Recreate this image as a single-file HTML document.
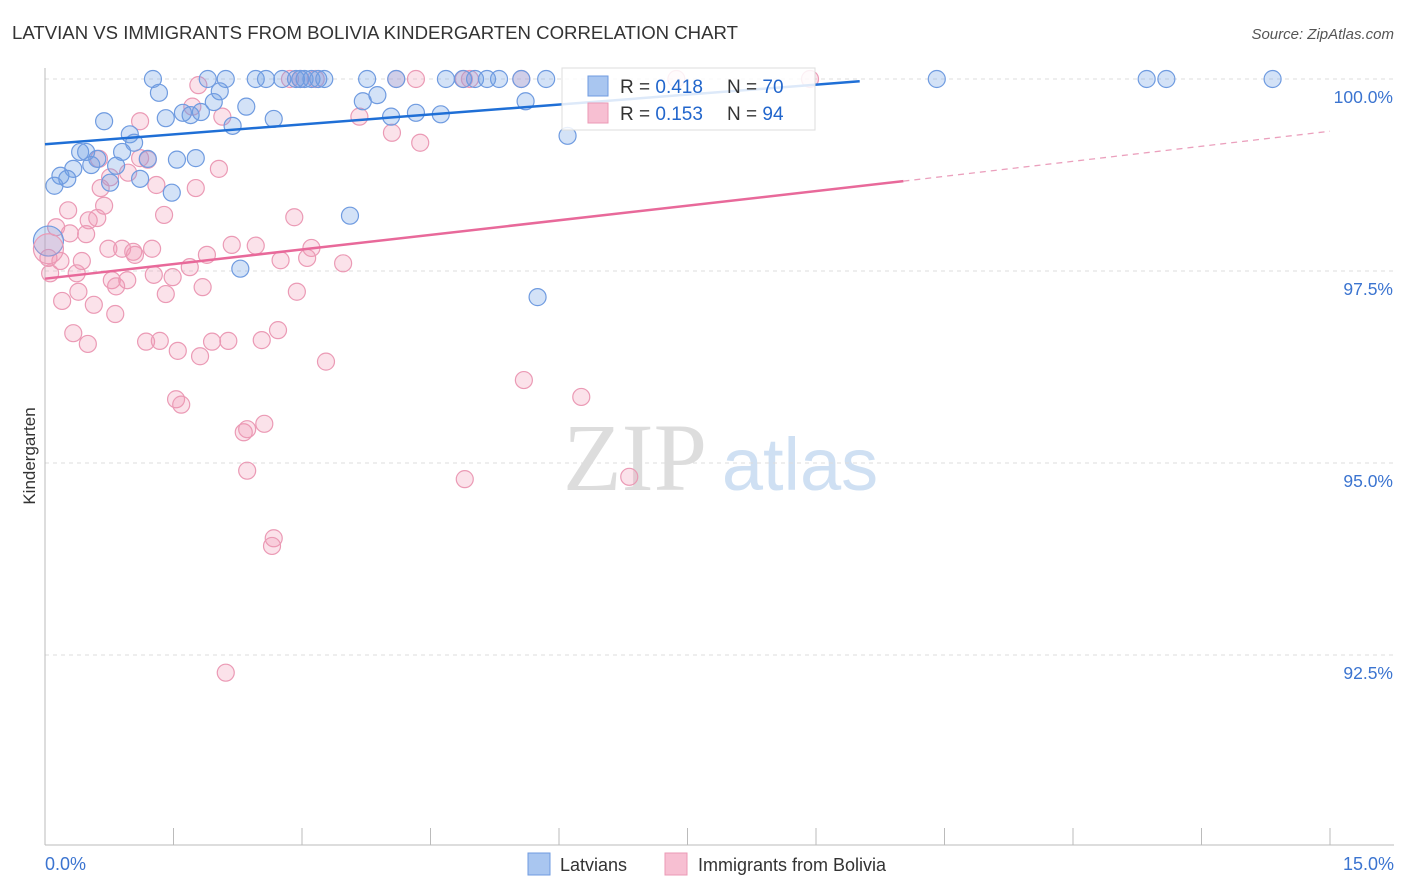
<!DOCTYPE html>
<html><head><meta charset="utf-8"><style>
body{margin:0;background:#fff;font-family:"Liberation Sans",sans-serif;}
svg{display:block}
</style></head><body>
<svg id="chart" width="1406" height="892" xmlns="http://www.w3.org/2000/svg">
<text x="12" y="39" font-size="18.6" fill="#333">LATVIAN VS IMMIGRANTS FROM BOLIVIA KINDERGARTEN CORRELATION CHART</text>
<text x="1394" y="39" font-size="15" fill="#555" font-style="italic" text-anchor="end">Source: ZipAtlas.com</text>
<text x="35" y="456" font-size="17" fill="#333" text-anchor="middle" transform="rotate(-90 35 456)">Kindergarten</text>
<g><text x="635" y="490" font-size="96" fill="#ddd" font-family="Liberation Serif,serif" text-anchor="middle">ZIP</text><text x="800" y="490" font-size="74" fill="#cfe0f3" text-anchor="middle">atlas</text></g>
<g id="grid"></g><g id="axes"></g><g id="pts"></g><g id="lines"></g>
<g>
<rect x="562" y="68" width="253" height="62" fill="#fff" fill-opacity="0.85" stroke="#ddd"/>
<rect x="588" y="76" width="20" height="20" fill="#a9c6f0" stroke="#6f9be0"/>
<rect x="588" y="103" width="20" height="20" fill="#f7bfd2" stroke="#eb9ab5"/>
<text x="620" y="93" font-size="19" fill="#333">R = <tspan fill="#2266cc">0.418</tspan></text>
<text x="727" y="93" font-size="19" fill="#333">N = <tspan fill="#2266cc">70</tspan></text>
<text x="620" y="120" font-size="19" fill="#333">R = <tspan fill="#2266cc">0.153</tspan></text>
<text x="727" y="120" font-size="19" fill="#333">N = <tspan fill="#2266cc">94</tspan></text>
</g>
<g>
<rect x="528" y="853" width="22" height="22" fill="#a9c6f0" stroke="#6f9be0"/>
<text x="560" y="871" font-size="18" fill="#333">Latvians</text>
<rect x="665" y="853" width="22" height="22" fill="#f7bfd2" stroke="#eb9ab5"/>
<text x="698" y="871" font-size="18" fill="#333">Immigrants from Bolivia</text>
</g>
</svg>
<script>
const yTicks=[100,97.5,95,92.5];
const yTickLabels=["100.0%","97.5%","95.0%","92.5%"];
const xTickCount=10;
const xLabels=["0.0%","15.0%"];
const blueX=[1.26,1.33,1.90,2.11,2.46,2.58,2.77,2.93,2.98,3.03,3.11,3.19,3.26,3.76,4.10,4.68,4.88,5.02,5.16,5.30,5.56,5.85,10.41,12.86,13.09,14.33,2.04,3.88,3.71,5.61,1.97,2.35,1.61,1.70,1.41,1.82,2.67,4.04,4.33,4.62,0.69,2.19,0.99,1.04,6.10,0.41,0.48,0.61,0.90,1.20,1.54,1.76,0.33,0.54,0.83,0.18,0.26,0.76,1.11,0.11,1.48,3.56,2.28,5.75];
const blueY=[100,99.82,100,100,100,100,100,100,100,100,100,100,100,100,100,100,100,100,100,100,100,100,100,100,100,100,99.84,99.79,99.71,99.71,99.70,99.64,99.56,99.53,99.49,99.57,99.48,99.51,99.56,99.54,99.45,99.39,99.28,99.17,99.26,99.05,99.05,98.96,99.05,98.96,98.95,98.97,98.83,98.88,98.87,98.74,98.70,98.65,98.70,98.61,98.52,98.22,97.53,97.16];
const pinkX=[1.79,2.86,2.98,3.16,4.10,4.33,4.89,4.96,5.56,7.37,8.93,1.72,2.07,1.11,3.67,4.05,4.38,0.63,1.20,1.11,0.76,1.30,0.97,2.03,0.65,1.76,0.69,0.27,1.39,2.91,0.51,0.61,0.13,0.29,0.48,2.18,2.46,3.11,0.74,0.90,1.25,1.03,1.89,0.04,0.18,0.43,1.69,2.75,3.06,3.48,1.05,0.06,0.37,1.27,0.78,0.96,1.49,0.83,1.84,1.41,2.94,0.39,0.20,0.57,0.82,0.33,2.72,0.50,1.18,1.34,1.95,2.14,2.53,1.55,1.81,3.28,5.59,6.26,1.53,1.59,2.56,2.32,2.36,2.36,4.90,6.82,2.67,2.65,2.11];
const pinkY=[99.92,100,100,100,100,100,100,100,100,100,100,99.64,99.51,99.45,99.51,99.30,99.17,98.96,98.95,98.97,98.72,98.62,98.78,98.83,98.58,98.58,98.35,98.29,98.23,98.20,98.16,98.19,98.07,97.99,97.98,97.84,97.83,97.80,97.79,97.79,97.79,97.75,97.71,97.67,97.63,97.63,97.55,97.64,97.67,97.60,97.71,97.47,97.47,97.45,97.38,97.38,97.42,97.30,97.29,97.20,97.23,97.23,97.11,97.06,96.94,96.69,96.73,96.55,96.58,96.59,96.58,96.59,96.60,96.46,96.39,96.32,96.08,95.86,95.83,95.76,95.51,95.40,95.44,94.90,94.79,94.82,94.02,93.92,92.27];
const bigPts=[[0.04,97.89,'b'],[0.04,97.79,'p']];
const blueTrend=[[0,99.15],[9.51,99.97]];
const pinkTrend=[[0,97.40],[10.02,98.67],[15,99.32]];
const X=v=>45+v/15*1285, Y=v=>79+(100-v)/2.5*192;
const NS="http://www.w3.org/2000/svg";
function mk(tag,attrs,parent){const e=document.createElementNS(NS,tag);for(const k in attrs)e.setAttribute(k,attrs[k]);document.getElementById(parent).appendChild(e);return e;}
yTicks.forEach((t,i)=>{
 const l=mk('line',{x1:45,x2:1394,y1:Y(t),y2:Y(t),stroke:'#ddd','stroke-dasharray':'4 4'},'grid');
 
 
 const tx=mk('text',{x:1393,y:Y(t)+24,'font-size':17.5,fill:'#3b74d0','text-anchor':'end'},'grid');
 tx.textContent=yTickLabels[i];
 
 
});
const ax=mk('line',{x1:45,x2:45,y1:68,y2:845,stroke:'#bbb'},'axes');


const bx=mk('line',{x1:45,x2:1394,y1:845,y2:845,stroke:'#bbb'},'axes');


for(let i=0;i<=xTickCount;i++){const t=mk('line',{x1:X(i*1.5),x2:X(i*1.5),y1:828,y2:845,stroke:'#bbb'},'axes');
 
 }
const xl0=mk('text',{x:45,y:870,'font-size':18,fill:'#3b74d0'},'axes');xl0.textContent=xLabels[0];


const xl1=mk('text',{x:1394,y:870,'font-size':18,fill:'#3b74d0','text-anchor':'end'},'axes');xl1.textContent=xLabels[1];


function dot(x,y,r,c){const b=c==='b';const e=mk('circle',{cx:X(x),cy:Y(y),r:r,fill:b?'rgba(110,160,230,0.3)':'rgba(240,150,180,0.28)',stroke:b?'#6f9be0':'#eb9ab5','stroke-width':1.2},'pts');return e;}
pinkX.forEach((x,i)=>{const e=dot(x,pinkY[i],8.5,'p');
 
 });
blueX.forEach((x,i)=>{const e=dot(x,blueY[i],8.5,'b');
 
 });
bigPts.forEach(p=>{const e=dot(p[0],p[1],15,p[2]);
 
 });
const bl=mk('line',{x1:X(blueTrend[0][0]),y1:Y(blueTrend[0][1]),x2:X(blueTrend[1][0]),y2:Y(blueTrend[1][1]),stroke:'#1f6fd6','stroke-width':2.5},'lines');


const pl=mk('line',{x1:X(pinkTrend[0][0]),y1:Y(pinkTrend[0][1]),x2:X(pinkTrend[1][0]),y2:Y(pinkTrend[1][1]),stroke:'#e8699a','stroke-width':2.5},'lines');


const pd=mk('line',{x1:X(pinkTrend[1][0]),y1:Y(pinkTrend[1][1]),x2:X(pinkTrend[2][0]),y2:Y(pinkTrend[2][1]),stroke:'#eba0bd','stroke-width':1.3,'stroke-dasharray':'6 5'},'lines');


</script>
</body></html>
